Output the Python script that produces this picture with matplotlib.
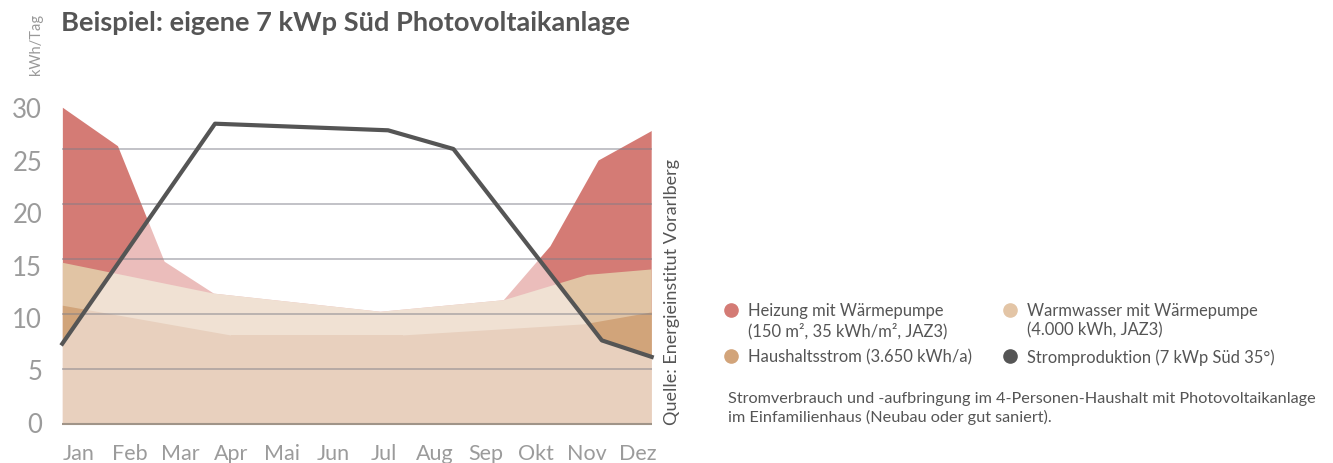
import matplotlib
matplotlib.use("Agg")
import matplotlib.pyplot as plt
import numpy as np
from matplotlib.lines import Line2D
from matplotlib.patches import Polygon

plt.rcParams["font.family"] = ["Lato", "DejaVu Sans"]

W, H = 1333, 464

months = ["Jan", "Feb", "Mar", "Apr", "Mai", "Jun",
          "Jul", "Aug", "Sep", "Okt", "Nov", "Dez"]
y_labels = ["0", "5", "10", "15", "20", "25", "30"]

# cumulative tops of the stacked demand (kWh/Tag); x in months, 0 = Jan, 11 = Dez
heiz_x = [0, 1.03, 1.90, 2.82, 5.93, 8.23, 9.10, 10.0, 11]
heiz_top = [28.8, 25.3, 14.8, 11.9, 10.25, 11.3, 16.2, 24.0, 26.7]
wasser_x = [0, 2.82, 5.93, 8.23, 9.79, 11]
wasser_top = [14.7, 11.9, 10.25, 11.3, 13.6, 14.1]
haus_x = [0, 3.13, 6.36, 9.72, 11]
haus_top = [10.8, 8.1, 8.1, 9.1, 10.2]

# PV production
pv_x = [0, 2.85, 6.08, 7.30, 10.07, 11]
pv = [7.3, 27.3, 26.7, 25.0, 7.6, 6.1]

# (strong colour above PV line, pale colour below)
layers = [
    (heiz_x, heiz_top, "#d47b75", "#ebbdbb"),
    (wasser_x, wasser_top, "#e1c4a4", "#f0e1d3"),
    (haus_x, haus_top, "#d1a47a", "#e8d0be"),
]

fig = plt.figure(figsize=(W / 100, H / 100), dpi=100)
ax = fig.add_axes([62.3 / W, (H - 425) / H, 589.4 / W, 341 / H])
ax.set_xlim(0, 11)
ax.set_ylim(0, 31)
for s in ax.spines.values():
    s.set_visible(False)

pv_pts = list(zip(pv_x, pv))
below = Polygon(pv_pts + [(11, 0), (0, 0)], transform=ax.transData)
above = Polygon(pv_pts + [(11, 60), (0, 60)], transform=ax.transData)

for xs, top, strong, pale in layers:
    hi = ax.fill_between(xs, 0, top, color=strong, lw=0, zorder=1)
    hi.set_clip_path(above)
    lo = ax.fill_between(xs, 0, top, color=pale, lw=0, zorder=1)
    lo.set_clip_path(below)

ax.hlines([5, 10, 15, 20, 25], 0, 11, colors="#7d7d88", alpha=0.5, lw=1.3, zorder=3)
ax.hlines(0, 0, 11, colors="#a09488", lw=1.5, zorder=3, clip_on=False)
ax.plot(pv_x, pv, color="#555555", lw=3.0, zorder=5, clip_on=False)

ax.set_yticks(np.linspace(0.2, 28.8, 7))
ax.set_yticklabels(y_labels)
ax.set_xticks(np.linspace(0.31, 10.74, 12))
ax.set_xticklabels(months)
ax.tick_params(axis="y", length=0, pad=14.5, labelsize=18.5, labelcolor="#9b9b9b")
ax.tick_params(axis="x", length=0, pad=14, labelsize=15.5, labelcolor="#9b9b9b")

def fx(px):
    return px / W

def fy(py):
    return 1 - py / H

fig.text(fx(61), fy(23), "Beispiel: eigene 7 kWp Süd Photovoltaikanlage",
         fontsize=19.6, fontweight="bold", color="#555555", va="center", ha="left")
fig.text(fx(36), fy(44), "kWh/Tag", rotation=90, fontsize=10.5, color="#999999",
         va="center", ha="center")
fig.text(fx(672), fy(425), "Quelle: Energieinstitut Vorarlberg", rotation=90,
         fontsize=13, color="#555555", va="bottom", ha="center")

legend = [
    (731, 311, "#d47b75", "Heizung mit Wärmepumpe\n(150 m², 35 kWh/m², JAZ3)"),
    (1010, 311, "#e3c5a6", "Warmwasser mit Wärmepumpe\n(4.000 kWh, JAZ3)"),
    (731, 357, "#d2a47a", "Haushaltsstrom (3.650 kWh/a)"),
    (1010, 357, "#555555", "Stromproduktion (7 kWp Süd 35°)"),
]
for px, py, col, label in legend:
    fig.add_artist(Line2D([fx(px)], [fy(py)], marker="o", markersize=9.5,
                          color=col, transform=fig.transFigure))
    fig.text(fx(px + 17), fy(py - 8), label, fontsize=11.9, color="#555555",
             va="top", ha="left", linespacing=1.25)

fig.text(fx(728), fy(392), "Stromverbrauch und -aufbringung im 4-Personen-Haushalt "
         "mit Photovoltaikanlage\nim Einfamilienhaus (Neubau oder gut saniert).",
         fontsize=11.7, color="#555555", va="top", ha="left", linespacing=1.3)

fig.savefig("out.png", dpi=100)
